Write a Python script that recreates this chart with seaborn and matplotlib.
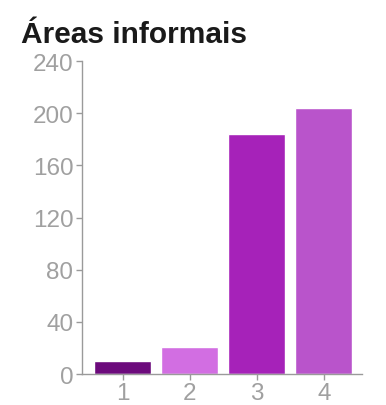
import matplotlib
matplotlib.use("Agg")
import matplotlib.pyplot as plt
import seaborn as sns
import pandas as pd

categories = ["1", "2", "3", "4"]
values = [10, 21, 184, 204]
colors = ["#6c0a7c", "#d26ee2", "#a622b9", "#b954cb"]

df = pd.DataFrame({"cat": categories, "val": values})

sns.set_style("white")
plt.rcParams["font.family"] = ["Liberation Sans", "DejaVu Sans"]

fig = plt.figure(figsize=(3.86, 4.06), dpi=100)
ax = fig.add_axes([0.212, 0.076, 0.726, 0.771])
sns.barplot(data=df, x="cat", y="val", hue="cat", palette=colors,
            width=0.85, legend=False, ax=ax, saturation=1)

ax.set_xlim(-0.61, 3.57)
ax.set_ylim(0, 240)
ax.set_yticks(range(0, 241, 40))
ax.set_xlabel("")
ax.set_ylabel("")
for s in ["top", "right"]:
    ax.spines[s].set_visible(False)
for s in ["left", "bottom"]:
    ax.spines[s].set_color("#9a9a9a")
    ax.spines[s].set_linewidth(1)
ax.tick_params(axis="both", colors="#9a9a9a", labelcolor="#a0a0a0",
               labelsize=17.5, length=4, width=1, left=True, bottom=True, pad=2)

fig.text(0.055, 0.915, "Áreas informais", fontsize=21.5, fontweight="bold",
         color="#1a1a1a", va="center")

fig.savefig("out.png", dpi=100)
